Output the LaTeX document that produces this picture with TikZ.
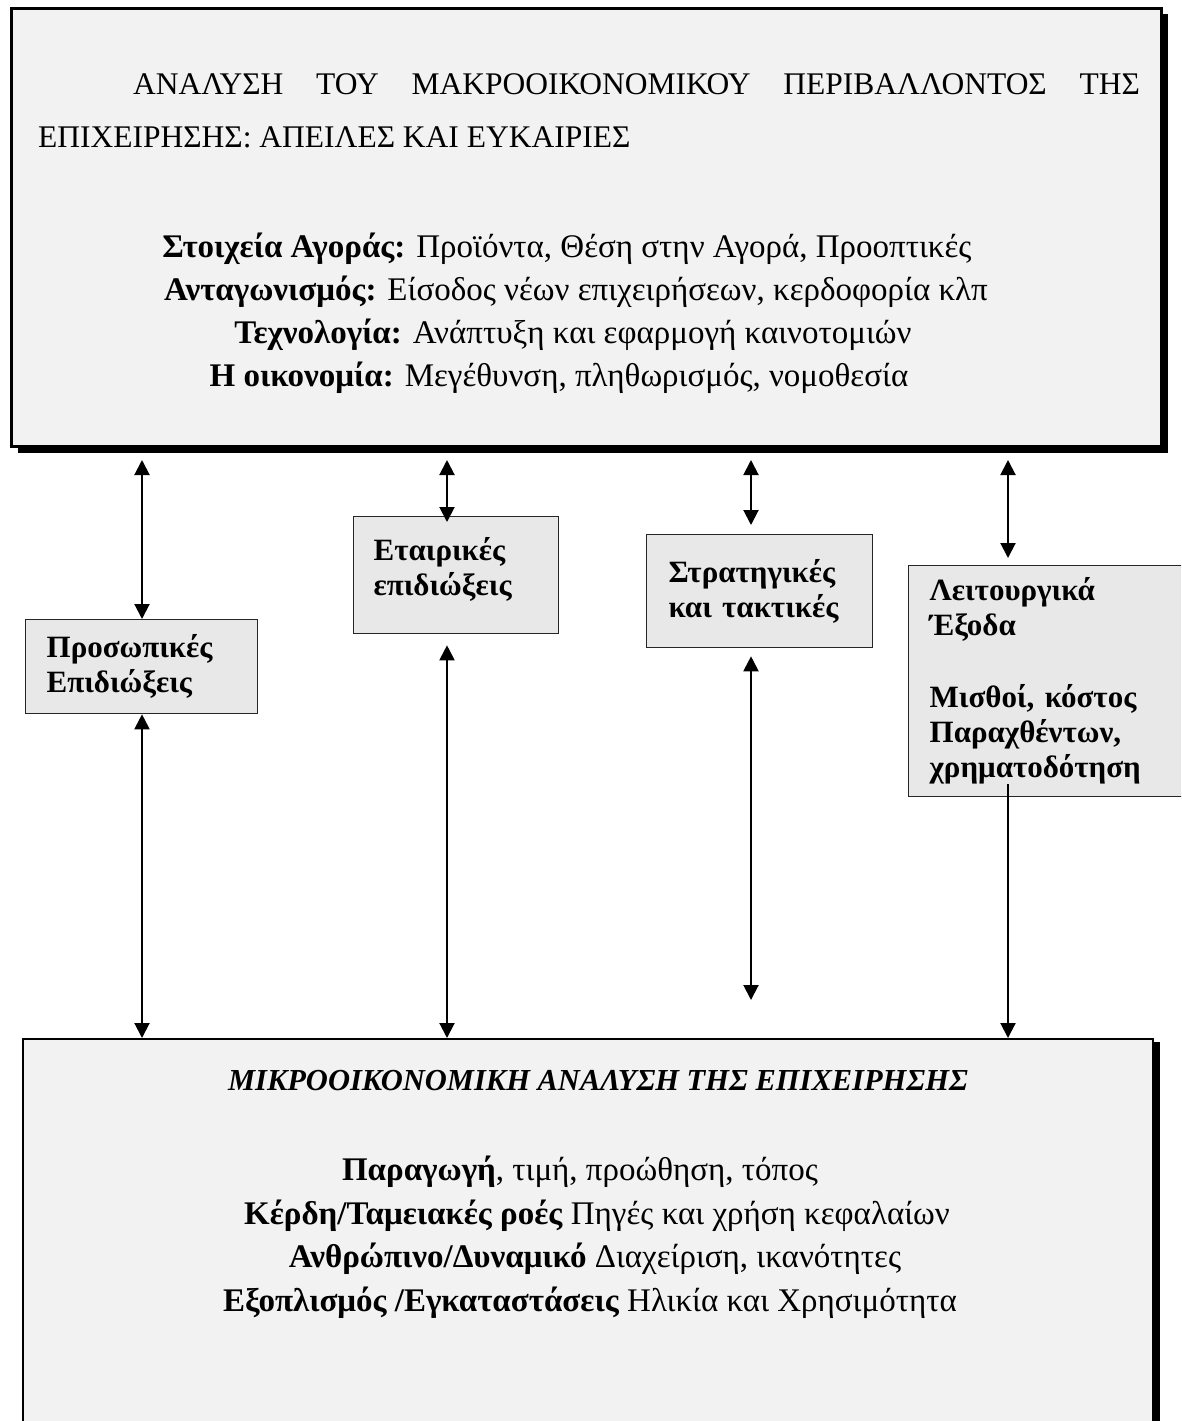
\documentclass[tikz,border=0pt]{standalone}
\usepackage{fontspec}
\setmainfont{Liberation Serif}
\usetikzlibrary{arrows.meta,shadows,calc}
\definecolor{panelgrey}{HTML}{F2F2F2}
\definecolor{boxgrey}{HTML}{E8E8E8}
\begin{document}
\begin{tikzpicture}[x=1pt,y={(0pt,-1pt)},
  panel/.style={draw=black, fill=panelgrey, inner sep=0pt, anchor=north west},
  sbox/.style={draw=black!85, line width=1.3pt, fill=boxgrey, align=left, anchor=north west,
    inner ysep=0pt, font=\bfseries\fontsize{31}{35}\selectfont},
  txt/.style={inner sep=0pt, anchor=base, font=\fontsize{33}{38}\selectfont},
  darr/.style={line width=2pt, {Triangle[width=15pt,length=15pt]}-{Triangle[width=15pt,length=15pt]}},
  sarr/.style={line width=2pt, -{Triangle[width=15pt,length=15pt]}}]
\clip (0,0) rectangle (1181,1421);
\fill[white] (0,0) rectangle (1181,1421);

% macro panel
\node[panel, line width=3pt, minimum width=1150pt, minimum height=438pt,
  drop shadow={shadow xshift=6pt, shadow yshift=-6pt, fill=black, opacity=1}] (macro) at (10,7) {};
\node[txt, anchor=base west, font=\fontsize{31.5}{36}\selectfont] (t1) at (133,94)
  {\hbox to 1007pt{ΑΝΑΛΥΣΗ\hfill ΤΟΥ\hfill ΜΑΚΡΟΟΙΚΟΝΟΜΙΚΟΥ\hfill ΠΕΡΙΒΑΛΛΟΝΤΟΣ\hfill ΤΗΣ}};
\node[txt, anchor=base west, font=\fontsize{31.5}{36}\selectfont] (t2) at (38,147) {ΕΠΙΧΕΙΡΗΣΗΣ: ΑΠΕΙΛΕΣ ΚΑΙ ΕΥΚΑΙΡΙΕΣ};
\node[txt] (m1) at (567,257) {\textbf{Στοιχεία Αγοράς:} Προϊόντα, Θέση στην Αγορά, Προοπτικές};
\node[txt] (m2) at (576,300) {\textbf{Ανταγωνισμός:} Είσοδος νέων επιχειρήσεων, κερδοφορία κλπ};
\node[txt] (m3) at (573,343) {\textbf{Τεχνολογία:} Ανάπτυξη και εφαρμογή καινοτομιών};
\node[txt] (m4) at (559,386) {\textbf{Η οικονομία:} Μεγέθυνση, πληθωρισμός, νομοθεσία};

% micro panel
\node[panel, line width=2pt, minimum width=1130pt, minimum height=450pt,
  drop shadow={shadow xshift=7pt, shadow yshift=-3pt, fill=black, opacity=1}] (micro) at (22,1038) {};
\node[txt, font=\fontsize{30.5}{35}\selectfont] (b0) at (598,1090) {\textbf{\textit{ΜΙΚΡΟΟΙΚΟΝΟΜΙΚΗ ΑΝΑΛΥΣΗ ΤΗΣ ΕΠΙΧΕΙΡΗΣΗΣ}}};
\node[txt] (b1) at (580,1180) {\textbf{Παραγωγή}, τιμή, προώθηση, τόπος};
\node[txt] (b2) at (597,1224) {\textbf{Κέρδη/Ταμειακές ροές} Πηγές και χρήση κεφαλαίων};
\node[txt] (b3) at (595,1267) {\textbf{Ανθρώπινο/Δυναμικό} Διαχείριση, ικανότητες};
\node[txt] (b4) at (590,1311) {\textbf{Εξοπλισμός /Εγκαταστάσεις} Ηλικία και Χρησιμότητα};

% small boxes
\node[sbox, inner xsep=21pt, text width=190pt, minimum height=94pt] (pers) at (25,619)
  {Προσωπικές\\Επιδιώξεις};
\node[sbox, inner xsep=20pt, text width=165pt, minimum height=117pt] (corp) at (353,516)
  {Εταιρικές\\επιδιώξεις\\[-18pt]\mbox{}};
\node[sbox, inner xsep=22pt, text width=182pt, minimum height=113pt] (strat) at (646,534)
  {Στρατηγικές\\και τακτικές};
\node[sbox, inner xsep=21pt, text width=238pt, minimum height=231pt] (func) at (908,565)
  {Λειτουργικά\\Έξοδα\\[37pt]Μισθοί, κόστος\\Παραχθέντων,\\χρηματοδότηση};

% arrow columns
\coordinate (a1) at (142,0);
\coordinate (a2) at (447,0);
\coordinate (a3) at (751,0);
\coordinate (a4) at (1008,0);

\draw[darr] ($(a1 |- macro.south)+(0,12)$) -- (a1 |- pers.north);
\draw[darr] ($(a2 |- macro.south)+(0,12)$) -- ($(a2 |- corp.north)+(0,6)$);
\draw[darr] ($(a3 |- macro.south)+(0,12)$) -- ($(a3 |- strat.north)+(0,-9)$);
\draw[darr] ($(a4 |- macro.south)+(0,12)$) -- ($(a4 |- func.north)+(0,-7)$);

\draw[darr] (a1 |- pers.south) -- (a1 |- micro.north);
\draw[darr] ($(a2 |- corp.south)+(0,11)$) -- (a2 |- micro.north);
\draw[darr] ($(a3 |- strat.south)+(0,8)$) -- ($(a3 |- micro.north)+(0,-38)$);
\draw[sarr] ($(a4 |- func.south)+(0,-13)$) -- (a4 |- micro.north);
\end{tikzpicture}
\end{document}
